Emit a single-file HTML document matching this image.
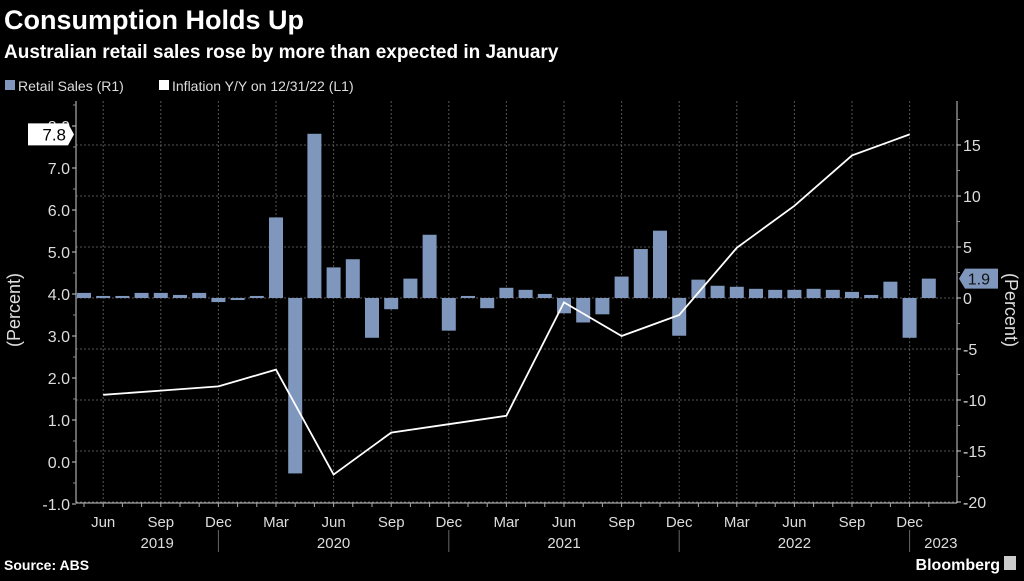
<!DOCTYPE html>
<html><head><meta charset="utf-8"><style>
body{margin:0;background:#000;width:1024px;height:576px;overflow:hidden;font-family:"Liberation Sans",sans-serif;color:#fff}
svg text{font-family:"Liberation Sans",sans-serif}
</style></head><body>
<svg width="1024" height="576" viewBox="0 0 1024 576">
<text x="4" y="29" font-size="27" font-weight="bold" fill="#fff">Consumption Holds Up</text>
<text x="4" y="58" font-size="19" font-weight="bold" fill="#fff">Australian retail sales rose by more than expected in January</text>
<g>
<rect x="5" y="80" width="10" height="10" fill="#7f97bd"/>
<text x="18" y="91" font-size="14" fill="#ddd">Retail Sales (R1)</text>
<rect x="159" y="80" width="10" height="10" fill="#fff"/>
<text x="172" y="91" font-size="14" fill="#ddd">Inflation Y/Y on 12/31/22 (L1)</text>
</g>
<g id="plot"></g>
<text transform="translate(20,310) rotate(-90)" text-anchor="middle" font-size="18" fill="#ddd">(Percent)</text>
<text transform="translate(1005,310) rotate(90)" text-anchor="middle" font-size="18" fill="#ddd">(Percent)</text>
<text x="4" y="570" font-size="14" font-weight="bold" fill="#fff">Source: ABS</text>
<text x="1000" y="570" text-anchor="end" font-size="16" font-weight="bold" fill="#fff">Bloomberg</text>
<rect x="1004" y="556" width="12" height="14" fill="#ccc"/>
</svg>
<script>
const retailSales=[0.5,0.2,0.2,0.5,0.5,0.3,0.5,-0.4,-0.2,0.2,7.9,-17.2,16.1,3.0,3.8,-3.9,-1.1,1.9,6.2,-3.2,0.2,-1.0,1.0,0.8,0.4,-1.5,-2.4,-1.6,2.1,4.8,6.6,-3.7,1.8,1.2,1.1,0.9,0.8,0.8,0.9,0.8,0.6,0.3,1.6,-3.9,1.9];
const inflationMonths=[1,4,7,10,13,16,19,22,25,28,31,34,37,40,43];
const inflationValues=[1.6,1.7,1.8,2.2,-0.3,0.7,0.9,1.1,3.8,3.0,3.5,5.1,6.1,7.3,7.8];
const leftTicks=[-1,0,1,2,3,4,5,6,7,8];
const rightTicks=[-20,-15,-10,-5,0,5,10,15];
const monthLabels=['Jun','Sep','Dec','Mar','Jun','Sep','Dec','Mar','Jun','Sep','Dec','Mar','Jun','Sep','Dec'];
const yearLabels=['2019','2020','2021','2022','2023'];
const NS='http://www.w3.org/2000/svg';
const g=document.getElementById('plot');
const X0=76,X1=957,YT=101,YB=503;
const xM=i=>84+19.2*i;
const yL=v=>462-42*v;
const yR=v=>298-10.2*v;
function mk(t,a,p){const e=document.createElementNS(NS,t);for(const k in a)e.setAttribute(k,a[k]);(p||g).appendChild(e);return e;}
rightTicks.forEach(v=>{const l=mk('line',{x1:X0,x2:X1,y1:yR(v),y2:yR(v),stroke:'#555','stroke-dasharray':'2,2'});

});
monthLabels.forEach((m,k)=>{const x=xM(1+3*k);const l=mk('line',{x1:x,x2:x,y1:YT,y2:YB,stroke:'#555','stroke-dasharray':'2,2'});

});
retailSales.forEach((v,i)=>{const y0=yR(0),y=yR(v);const r=mk('rect',{x:xM(i)-7,y:Math.min(y0,y),width:14,height:Math.max(1,Math.abs(y-y0)),fill:'#7f97bd'});

});
const pts=inflationMonths.map((m,i)=>xM(m)+','+yL(inflationValues[i])).join(' ');
const pl=mk('polyline',{points:pts,fill:'none',stroke:'#fff','stroke-width':1.8});


const al=mk('line',{x1:X0,x2:X0,y1:YT,y2:YB,stroke:'#ccc'});


const ar=mk('line',{x1:X1,x2:X1,y1:YT,y2:YB,stroke:'#ccc'});


const ab=mk('line',{x1:X0,x2:X1,y1:YB,y2:YB,stroke:'#ccc'});


leftTicks.forEach(v=>{mk('line',{x1:X0-4,x2:X0,y1:yL(v),y2:yL(v),stroke:'#ccc'});
const t=mk('text',{x:X0-6,y:yL(v)+6,'text-anchor':'end','font-size':16,fill:'#ddd'});t.textContent=v.toFixed(1);


mk('line',{x1:X0-3,x2:X0,y1:yL(v+0.5),y2:yL(v+0.5),stroke:'#888'});});
rightTicks.forEach(v=>{mk('line',{x1:X1,x2:X1+4,y1:yR(v),y2:yR(v),stroke:'#ccc'});
mk('line',{x1:X1,x2:X1+3,y1:yR(v+2.5),y2:yR(v+2.5),stroke:'#888'});
const t=mk('text',{x:X1+6,y:yR(v)+6,'font-size':16,fill:'#ddd'});t.textContent=v;

});
const lv=inflationValues[inflationValues.length-1];
const cb=mk('path',{d:`M28 ${yL(lv)-11}H68L74 ${yL(lv)}L68 ${yL(lv)+11}H28Z`,fill:'#fff'});


const ct=mk('text',{x:66,y:yL(lv)+6,'text-anchor':'end','font-size':17,fill:'#000'});ct.textContent=lv.toFixed(1);


const rv=retailSales[retailSales.length-1];
const rb=mk('path',{d:`M${X1+2} ${yR(rv)}L${X1+8} ${yR(rv)-10}H998V${yR(rv)+10}H${X1+8}Z`,fill:'#7f97bd'});


const rt=mk('text',{x:990,y:yR(rv)+6,'text-anchor':'end','font-size':16,fill:'#111'});rt.textContent=rv.toFixed(1);


retailSales.forEach((v,i)=>mk('line',{x1:xM(i),x2:xM(i),y1:YB,y2:YB+4,stroke:'#aaa'}));
monthLabels.forEach((m,k)=>{const t=mk('text',{x:xM(1+3*k),y:527,'text-anchor':'middle','font-size':15,fill:'#ddd'});t.textContent=m;

});
const yearX=[(xM(0)+xM(7))/2+6,xM(13),xM(25),xM(37),xM(44)+12];
yearLabels.forEach((y,k)=>{const t=mk('text',{x:yearX[k],y:548,'text-anchor':'middle','font-size':15,fill:'#ddd'});t.textContent=y;

});
[7,19,31,43].forEach(i=>{const x=xM(i);mk('line',{x1:x,x2:x,y1:530,y2:552,stroke:'#666'});});
</script>
</body></html>
